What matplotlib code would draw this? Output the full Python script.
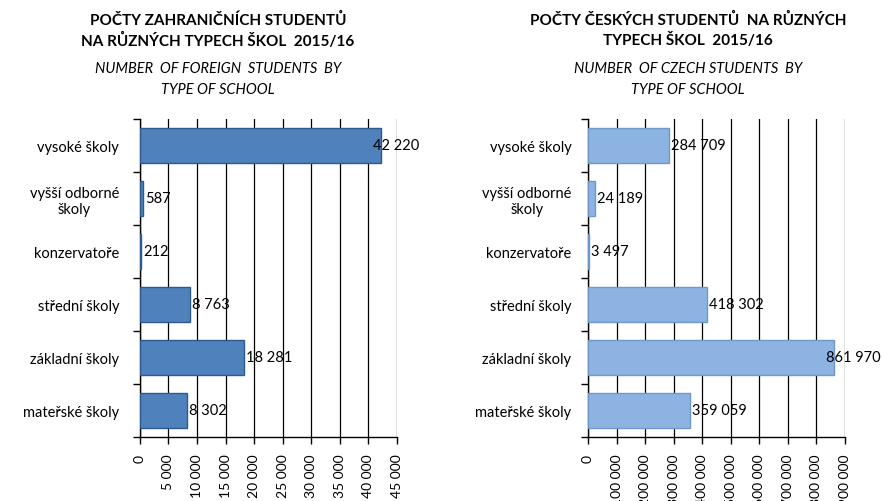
import numpy as np
import matplotlib
matplotlib.use('Agg')
from matplotlib import pyplot as plt
from matplotlib import rcParams

rcParams['font.family'] = ['Lato', 'DejaVu Sans']

categories = ['vysoké školy', 'vyšší odborné\nškoly', 'konzervatoře',
              'střední školy', 'základní školy', 'mateřské školy']
foreign = [42220, 587, 212, 8763, 18281, 8302]
czech = [284709, 24189, 3497, 418302, 861970, 359059]

foreign_ticks = np.arange(0, 45001, 5000)
czech_ticks = np.arange(0, 900001, 100000)


def fmt(v):
    return '{:,}'.format(v).replace(',', ' ')


fig = plt.figure(figsize=(8.82, 5.02), dpi=100)

panels = [
    (0.1587, foreign, foreign_ticks, '#4F81BD', '#2C5A8F',
     'POČTY ZAHRANIČNÍCH STUDENTŮ\nNA RŮZNÝCH TYPECH ŠKOL  2015/16',
     'NUMBER  OF FOREIGN  STUDENTS  BY\nTYPE OF SCHOOL', 0.247, 15),
    (0.6667, czech, czech_ticks, '#8DB3E2', '#6F97C8',
     'POČTY ČESKÝCH STUDENTŮ  NA RŮZNÝCH\nTYPECH ŠKOL  2015/16',
     'NUMBER  OF CZECH STUDENTS  BY\nTYPE OF SCHOOL', 0.78, 12),
]

for left, vals, ticks, color, edge, title, subtitle, tx, ypad in panels:
    ax = fig.add_axes([left, 0.1275, 0.291, 0.6335])
    y = np.arange(len(categories))
    ax.barh(y, vals, height=0.66, color=color, edgecolor=edge, linewidth=1.0, zorder=3)
    ax.set_ylim(len(categories) - 0.5, -0.5)
    ax.set_xlim(0, ticks[-1])
    ax.set_xticks(ticks)
    ax.set_xticklabels([fmt(t) for t in ticks], rotation=90, fontsize=10)
    ax.set_yticks(y)
    ax.set_yticklabels(categories, fontsize=10.5, multialignment='center')
    ax.tick_params(axis='y', length=0, pad=ypad)
    ax.set_yticks(np.arange(-0.5, len(categories)), minor=True)
    ax.tick_params(axis='y', which='minor', length=5, width=1, direction='out')
    ax.tick_params(axis='x', length=5, width=1, direction='out', pad=7)
    ax.grid(axis='x', color='black', linewidth=0.9, zorder=0)
    ax.spines['top'].set_visible(False)
    ax.spines['right'].set_visible(False)
    for s in ('left', 'bottom'):
        ax.spines[s].set_linewidth(1.0)
    for yi, v in zip(y, vals):
        # labels near the right edge slide back onto the bar, as in the original
        dx = 2 if v < ticks[-1] * 0.9 else -8
        ax.annotate(fmt(v), (v, yi), xytext=(dx, 0), textcoords='offset pixels',
                    va='center', ha='left', fontsize=10.5, zorder=4)
    fig.text(tx, 0.974, title, ha='center', va='top', fontsize=11,
             fontweight='bold', linespacing=1.37)
    fig.text(tx, 0.877, subtitle, ha='center', va='top', fontsize=10.5,
             style='italic', linespacing=1.7)

fig.savefig('out.png', dpi=100)
plt.close()
